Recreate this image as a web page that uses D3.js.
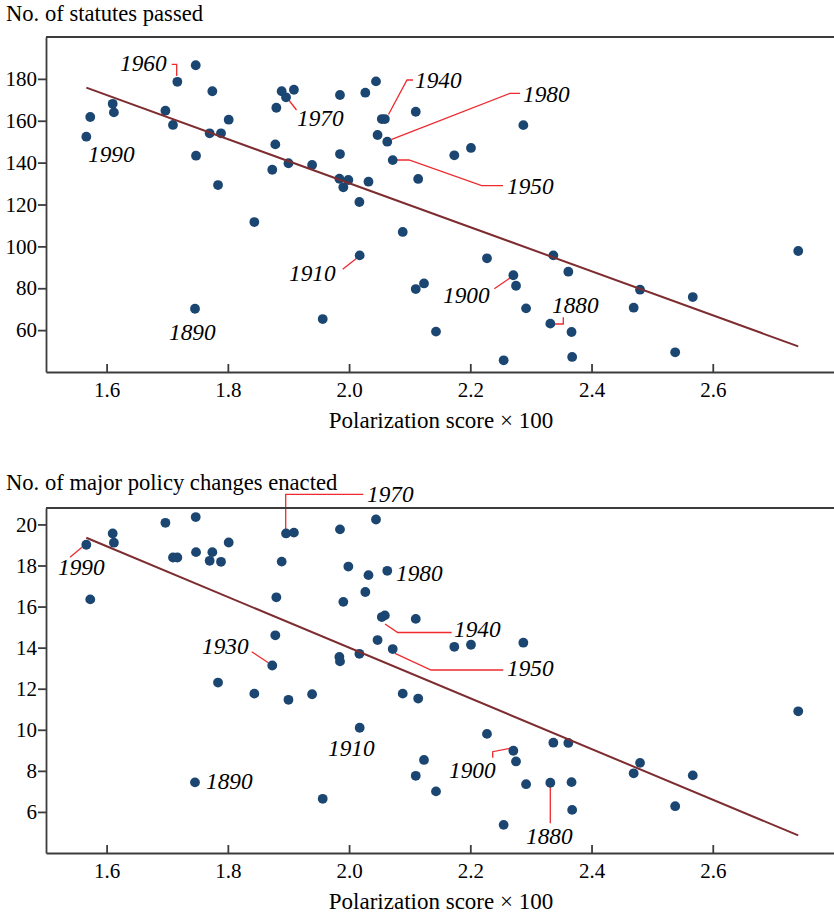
<!DOCTYPE html>
<html>
<head>
<meta charset="utf-8">
<script src="https://cdn.jsdelivr.net/npm/d3@7"></script>
<style>
  body { margin: 0; background: #fff; }
  text { font-family: "Liberation Serif", "Times New Roman", serif; fill: #000; }
</style>
</head>
<body>
<svg id="chart" width="834" height="914"></svg>
<script>
// polarization score x 100, one per congress
var score = [1.5665, 1.573, 1.610, 1.612, 1.697, 1.7095, 1.7167, 1.747, 1.7475, 1.7744,
    1.770, 1.7887, 1.8014, 1.7838, 1.7458, 1.8437, 1.8733, 1.8783, 1.880, 1.8888,
    1.896, 1.909, 1.900, 1.939, 1.9565, 1.985, 1.985, 1.984, 1.9988, 1.9905,
    2.017, 2.0175, 2.0268, 2.032, 2.0444, 2.047, 2.054, 2.059, 2.063, 2.072,
    2.0885, 2.110, 2.114, 2.110, 2.1236, 2.1434, 2.1736, 2.2011, 2.2275, 2.255,
    2.271, 2.2754, 2.2875, 2.292, 2.332, 2.337, 2.3617, 2.367, 2.368, 2.4695,
    2.480, 2.538, 2.567, 2.741];
var statutes = [152.4, 161.8, 168.1, 164.0, 164.8, 158.0, 178.6, 186.5, 143.3, 174.1,
    154.0, 154.0, 160.5, 129.3, 70.2, 111.6, 136.6, 148.7, 166.2, 174.1,
    171.2, 174.8, 139.7, 138.9, 65.3, 172.3, 144.1, 132.3, 131.7, 128.2,
    121.2, 95.7, 173.4, 130.9, 178.8, 153.2, 160.8, 160.8, 150.0, 141.2,
    106.9, 164.3, 132.2, 79.6, 82.3, 59.3, 143.5, 147.0, 94.3, 45.6,
    86.2, 81.2, 157.9, 70.4, 63.1, 95.7, 87.9, 59.1, 47.2, 70.7,
    79.3, 49.4, 75.8, 97.8];
var majorChanges = [19.01, 16.35, 19.56, 19.11, 20.08, 18.39, 18.39, 20.36, 18.65, 18.65,
    18.23, 18.18, 19.12, 12.30, 7.44, 11.76, 13.13, 14.60, 16.45, 18.19,
    19.56, 19.60, 11.46, 11.73, 6.64, 19.76, 13.33, 13.55, 17.95, 16.23,
    13.70, 10.10, 16.71, 17.53, 20.24, 14.37, 15.49, 15.57, 17.74, 13.93,
    11.76, 15.40, 11.52, 7.76, 8.53, 7.00, 14.04, 14.14, 9.80, 5.37,
    8.98, 8.46, 14.24, 7.35, 7.42, 9.37, 9.36, 7.45, 6.10, 7.88,
    8.39, 6.28, 7.78, 10.90];

// fitted lines: [intercept, slope]
var statutesFit = [340.6, -105.2];
var changesFit = [38.68, -12.34];

var scoreTicks = [1.6, 1.8, 2.0, 2.2, 2.4, 2.6];
var statutesTicks = [60, 80, 100, 120, 140, 160, 180];
var changesTicks = [6, 8, 10, 12, 14, 16, 18, 20];

var statutesYears = ['1960', '1970', '1990', '1940', '1980', '1950', '1910', '1890', '1900', '1880'];
var changesYears = ['1970', '1990', '1930', '1980', '1940', '1950', '1910', '1890', '1900', '1880'];

var svg = d3.select('#chart');
var x = d3.scaleLinear().domain([1.5, 2.8]).range([46, 834]);

// label placement (pixels): text start, baseline, leader polyline
var statutesLayout = [
    {t: [120, 71], l: [[171.7, 64.3], [176.7, 64.3], [176.7, 76]]},
    {t: [297, 126], l: [[296.5, 110], [288, 99]]},
    {t: [88, 162]},
    {t: [415, 88], l: [[413, 80], [407, 80], [388.5, 114.5]]},
    {t: [523, 102], l: [[520, 93.3], [510, 93.3], [391.7, 139.3]]},
    {t: [507, 194], l: [[503, 185.7], [481.7, 185.7], [409, 160], [393, 160]]},
    {t: [289, 281], l: [[342.7, 269.3], [357.3, 257.7]]},
    {t: [169, 340]},
    {t: [443, 303], l: [[494.3, 288.7], [511, 277.3]]},
    {t: [552, 313], l: [[563.3, 317.3], [563.3, 324], [552.7, 324]]}
];
var changesLayout = [
    {t: [367, 502], l: [[363.3, 494.3], [285.7, 494.3], [285.7, 530]]},
    {t: [58, 575], l: [[70, 557.3], [82, 547.3]]},
    {t: [202, 654], l: [[251.7, 651.7], [268.3, 662.7]]},
    {t: [396, 581]},
    {t: [454, 637], l: [[385, 624], [397.7, 632.5], [451.7, 632.5]]},
    {t: [507, 676], l: [[395, 653.3], [431, 670], [503.3, 670]]},
    {t: [328, 756]},
    {t: [206, 789]},
    {t: [449, 778], l: [[492.7, 757.7], [492.7, 751.7], [510, 748.3]]},
    {t: [526, 844], l: [[550.3, 786.7], [550.3, 823.3]]}
];

function drawPanel(cfg) {
    var y = d3.scaleLinear().domain(cfg.domain).range([cfg.bottom, cfg.top]);
    var g = svg.append('g');

    g.append('text')
        .attr('x', 6).attr('y', cfg.titleY)
        .style('font-size', '22.6px')
        .text(cfg.title);

    // leaders
    var line = d3.line();
    cfg.layout.forEach(function (d) {
        if (!d.l) return;
        g.append('path')
            .attr('d', line(d.l))
            .style('fill', 'none')
            .style('stroke', '#ee2a2f')
            .style('stroke-width', 1.3);
    });

    g.selectAll('circle.pt').data(score).enter().append('circle')
        .attr('class', 'pt')
        .attr('cx', function (d) { return x(d); })
        .attr('cy', function (d, i) { return y(cfg.values[i]); })
        .attr('r', 4.9)
        .style('fill', '#1b4672');

    var x0 = d3.min(score), x1 = d3.max(score);
    g.append('line')
        .attr('x1', x(x0)).attr('y1', y(cfg.fit[0] + cfg.fit[1] * x0))
        .attr('x2', x(x1)).attr('y2', y(cfg.fit[0] + cfg.fit[1] * x1))
        .style('stroke', '#7d2c30')
        .style('stroke-width', 2);

    var yAxis = g.append('g')
        .attr('transform', 'translate(46,0)')
        .call(d3.axisLeft(y).tickValues(cfg.ticks).tickSizeInner(8).tickSizeOuter(0).tickPadding(1));
    var xAxis = g.append('g')
        .attr('transform', 'translate(0,' + cfg.bottom + ')')
        .call(d3.axisBottom(x).tickValues(scoreTicks).tickSizeInner(-8).tickSizeOuter(0)
            .tickPadding(10).tickFormat(d3.format('.1f')));
    [yAxis, xAxis].forEach(function (a) {
        a.selectAll('path, line').style('stroke', '#3c3c3c').style('stroke-width', 1.8);
        a.selectAll('text').style('font-size', '21px').style('fill', '#000')
            .style('font-family', '"Liberation Serif", serif');
    });
    g.append('line')
        .attr('x1', 46).attr('x2', 834)
        .attr('y1', cfg.top).attr('y2', cfg.top)
        .style('stroke', '#3c3c3c').style('stroke-width', 1.8);

    g.append('text')
        .attr('x', 441).attr('y', cfg.bottom + 56)
        .attr('text-anchor', 'middle')
        .style('font-size', '23px')
        .text('Polarization score \u00d7 100');

    cfg.layout.forEach(function (d, i) {
        g.append('text')
            .attr('x', d.t[0]).attr('y', d.t[1])
            .style('font-size', '23.3px')
            .style('font-style', 'italic')
            .text(cfg.years[i]);
    });
}

drawPanel({
    top: 37, bottom: 372, domain: [40, 200], titleY: 21,
    title: 'No. of statutes passed', values: statutes, ticks: statutesTicks,
    fit: statutesFit, years: statutesYears, layout: statutesLayout
});
drawPanel({
    top: 508, bottom: 853, domain: [4, 20.8], titleY: 490,
    title: 'No. of major policy changes enacted', values: majorChanges, ticks: changesTicks,
    fit: changesFit, years: changesYears, layout: changesLayout
});
</script>
</body>
</html>
